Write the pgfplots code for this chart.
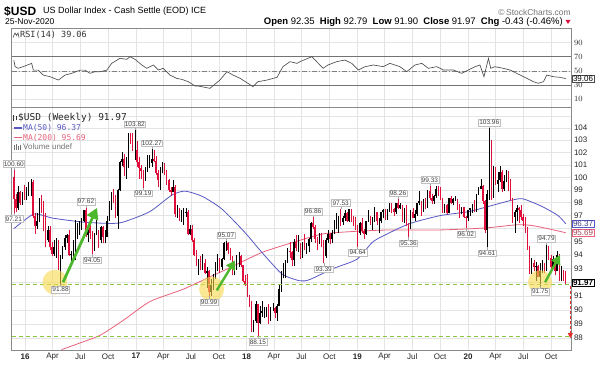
\documentclass[border=0pt]{standalone}
\usepackage{pgfplots}
\pgfplotsset{compat=1.18}
\usepackage{pgfplotstable}
\usepackage{fontspec}
\setmainfont{Liberation Sans}
\newfontfamily\monofont{DejaVu Sans Mono}
\usetikzlibrary{arrows.meta}

\definecolor{candred}{HTML}{E0103C}
\definecolor{mablue}{HTML}{5858C4}
\definecolor{mared}{HTML}{E8607A}
\definecolor{lgreen}{HTML}{8CC63F}
\definecolor{agreen}{HTML}{4DB82E}
\definecolor{gridc}{HTML}{E4E4E4}
\definecolor{framec}{HTML}{8A8A8A}
\definecolor{circy}{HTML}{F7D94C}
\definecolor{arrred}{HTML}{E8302A}

% weekly candles: k = week index (0 = week of 30-Nov-2015)
\pgfplotstableread{
k o h l c
0 100.00 100.60 97.21 98.30
1 98.30 98.70 97.30 97.60
2 97.60 99.30 97.40 98.80
3 98.80 98.90 97.80 98.00
4 98.00 98.80 97.80 98.60
5 98.60 99.40 98.20 98.50
6 98.50 99.20 98.20 98.90
7 98.90 99.60 98.50 99.60
8 99.60 99.90 98.50 99.60
9 99.60 99.80 96.80 97.00
10 97.00 97.20 95.60 96.20
11 96.20 97.20 96.00 96.60
12 96.60 98.40 96.50 98.10
13 98.10 98.60 97.20 97.30
14 97.30 98.10 95.80 96.20
15 96.20 97.20 94.60 95.10
16 95.10 96.20 95.00 95.90
17 95.90 96.20 94.40 94.60
18 94.60 95.00 93.90 94.10
19 94.10 95.10 93.90 94.60
20 94.60 95.30 93.80 95.10
21 95.10 95.10 92.90 93.00
22 93.00 94.00 91.88 93.90
23 93.90 94.70 93.70 94.60
24 94.60 95.50 94.40 95.30
25 95.30 95.60 94.90 95.50
26 95.50 95.90 93.90 94.00
27 94.00 94.30 93.40 94.10
28 94.10 95.10 93.70 94.20
29 94.20 96.70 93.60 95.50
30 95.50 96.40 95.20 95.60
31 95.60 96.60 95.50 96.30
32 96.30 96.80 95.90 96.60
33 96.60 97.30 96.50 97.40
34 97.40 97.62 95.40 95.50
35 95.50 96.30 95.00 96.20
36 96.20 96.30 95.20 95.70
37 95.70 95.80 94.05 94.50
38 94.50 95.70 94.30 95.60
39 95.60 96.70 95.50 95.80
40 95.80 95.90 94.50 95.10
41 95.10 96.20 94.90 96.10
42 96.10 96.20 94.90 95.40
43 95.40 95.90 94.90 95.40
44 95.40 97.00 95.40 96.60
45 96.60 98.10 96.60 98.00
46 98.00 98.80 97.40 98.70
47 98.70 99.10 98.00 98.40
48 98.40 98.60 96.80 97.00
49 97.00 99.10 96.00 99.00
50 99.00 101.30 98.90 101.20
51 101.20 102.00 100.90 101.50
52 101.50 101.90 100.10 100.80
53 100.80 101.60 99.90 101.50
54 101.50 103.60 100.70 103.10
55 103.10 103.60 102.70 103.00
56 103.00 103.60 102.10 102.20
57 102.20 103.82 101.40 102.20
58 102.20 102.90 100.80 101.20
59 101.20 101.60 99.90 100.70
60 100.70 101.00 99.90 100.50
61 100.50 100.60 99.19 99.80
62 99.80 100.80 99.70 100.80
63 100.80 101.80 100.40 100.90
64 100.90 101.80 100.70 101.10
65 101.10 102.27 100.80 101.50
66 101.50 102.20 101.20 101.30
67 101.30 101.70 100.20 100.30
68 100.30 100.60 99.20 99.80
69 99.80 100.80 99.00 100.30
70 100.30 101.20 100.30 101.10
71 101.10 101.10 100.20 100.50
72 100.50 100.60 99.40 99.80
73 99.80 99.90 98.80 99.00
74 99.00 99.20 98.50 98.80
75 98.80 99.80 98.80 99.20
76 99.20 99.40 96.90 97.10
77 97.10 97.80 96.80 97.40
78 97.40 97.60 96.60 96.70
79 96.70 97.40 96.50 97.20
80 97.20 97.60 96.30 97.20
81 97.20 97.60 96.90 97.30
82 97.30 97.40 95.50 95.60
83 95.60 96.30 95.50 96.00
84 96.00 96.30 95.00 95.10
85 95.10 95.30 93.90 94.00
86 94.00 94.40 93.20 93.30
87 93.30 93.70 92.50 93.50
88 93.50 93.90 92.90 93.10
89 93.10 94.10 92.90 93.40
90 93.40 93.70 92.60 92.70
91 92.70 93.10 91.60 92.80
92 92.80 92.90 90.99 91.30
93 91.30 92.20 91.00 91.90
94 91.90 92.60 91.40 92.20
95 92.20 93.50 92.20 93.10
96 93.10 94.10 92.80 93.80
97 93.80 93.80 92.70 93.10
98 93.10 93.80 92.90 93.70
99 93.70 95.00 93.60 94.90
100 94.90 95.07 94.30 94.90
101 94.90 95.00 94.10 94.40
102 94.40 94.50 93.60 93.60
103 93.60 93.90 92.50 92.80
104 92.80 93.40 92.50 92.90
105 92.90 94.00 92.90 93.90
106 93.90 94.20 93.10 93.90
107 93.90 94.00 93.10 93.30
108 93.30 93.30 92.00 92.10
109 92.10 92.50 91.70 91.90
110 91.90 92.60 90.90 90.90
111 90.90 91.10 90.20 90.60
112 90.60 90.60 88.40 89.10
113 89.10 89.30 88.40 89.20
114 89.20 90.60 89.10 90.40
115 90.40 90.40 88.15 89.10
116 89.10 90.30 89.00 89.80
117 89.80 90.60 89.50 89.90
118 89.90 90.20 89.40 90.10
119 90.10 90.20 89.50 90.20
120 90.20 90.40 89.00 89.40
121 89.40 90.20 89.20 90.10
122 90.10 90.50 89.90 90.10
123 90.10 90.20 89.40 89.80
124 89.80 90.40 89.20 90.30
125 90.30 91.80 90.30 91.50
126 91.50 92.80 91.30 92.50
127 92.50 93.40 92.30 92.50
128 92.50 93.60 92.30 93.60
129 93.60 94.50 93.40 94.30
130 94.30 95.00 93.80 94.20
131 94.20 94.30 93.20 93.60
132 93.60 95.20 93.20 95.00
133 95.00 95.50 94.30 94.50
134 94.50 95.50 94.20 94.60
135 94.60 94.90 93.70 94.00
136 94.00 95.00 93.80 94.70
137 94.70 95.60 94.40 94.40
138 94.40 94.90 94.10 94.70
139 94.70 95.30 94.20 95.20
140 95.20 96.50 95.00 96.40
141 96.40 96.86 96.00 96.10
142 96.10 96.30 94.90 95.20
143 95.20 95.40 94.40 95.10
144 95.10 95.70 94.80 95.40
145 95.40 95.70 94.60 94.90
146 94.90 95.10 93.39 93.90
147 93.90 95.30 93.80 95.10
148 95.10 95.90 94.90 95.60
149 95.60 95.70 94.80 95.20
150 95.20 95.90 94.90 95.70
151 95.70 96.70 95.60 96.40
152 96.40 97.20 96.00 96.50
153 96.50 97.00 95.70 96.90
154 96.90 97.53 96.20 96.50
155 96.50 97.00 96.30 96.80
156 96.80 97.40 96.60 97.20
157 97.20 97.30 96.50 96.60
158 96.60 97.50 96.50 97.50
159 97.50 97.50 96.50 96.90
160 96.90 97.00 96.20 96.40
161 96.40 96.90 95.90 96.20
162 96.20 96.30 94.64 95.70
163 95.70 96.50 95.50 96.40
164 96.40 96.80 95.70 95.80
165 95.80 96.00 95.20 95.60
166 95.60 96.60 95.50 96.60
167 96.60 97.40 96.50 96.90
168 96.90 97.00 96.30 96.50
169 96.50 96.90 95.90 96.50
170 96.50 97.70 96.50 97.30
171 97.30 97.30 96.30 96.60
172 96.60 96.80 95.70 96.60
173 96.60 97.30 96.40 97.30
174 97.30 97.50 96.80 97.40
175 97.40 97.50 96.70 96.90
176 96.90 97.50 96.70 97.40
177 97.40 98.00 97.30 98.00
178 98.00 98.00 97.20 97.50
179 97.50 97.60 97.00 97.30
180 97.30 98.00 97.10 98.00
181 98.00 98.26 97.50 97.60
182 97.60 98.00 97.50 97.80
183 97.80 97.80 96.50 96.50
184 96.50 97.60 96.40 97.60
185 97.60 97.80 96.20 96.20
186 96.20 96.40 95.36 96.10
187 96.10 97.40 96.00 97.30
188 97.30 97.60 96.80 96.80
189 96.80 97.40 96.60 97.10
190 97.10 98.00 97.00 98.00
191 98.00 98.90 97.80 98.10
192 98.10 98.10 97.00 97.50
193 97.50 98.30 97.30 98.10
194 98.10 98.40 97.50 97.60
195 97.60 99.00 97.60 98.90
196 98.90 99.33 98.20 98.40
197 98.40 98.70 97.90 98.10
198 98.10 98.60 97.90 98.50
199 98.50 99.30 98.40 99.10
200 99.10 99.30 98.50 98.80
201 98.80 99.20 98.20 98.30
202 98.30 98.40 97.20 97.30
203 97.30 97.90 97.20 97.80
204 97.80 97.90 97.10 97.20
205 97.20 98.40 97.20 98.40
206 98.40 98.50 97.90 98.00
207 98.00 98.40 97.80 98.30
208 98.30 98.50 98.10 98.30
209 98.30 98.30 97.40 97.70
210 97.70 97.90 96.80 97.20
211 97.20 97.70 97.10 97.70
212 97.70 97.70 96.80 96.90
213 96.90 97.00 96.02 96.80
214 96.80 97.40 96.60 97.40
215 97.40 97.50 97.00 97.60
216 97.60 97.90 97.20 97.90
217 97.90 98.20 97.30 97.40
218 97.40 98.70 97.30 98.70
219 98.70 99.20 98.60 99.10
220 99.10 99.90 99.10 99.30
221 99.30 99.40 97.90 98.10
222 98.10 98.20 95.70 95.90
223 95.90 99.00 94.61 98.70
224 98.70 103.96 98.20 102.80
225 102.80 103.00 98.20 98.40
226 98.40 100.90 98.40 100.60
227 100.60 100.80 99.40 99.50
228 99.50 100.40 98.80 99.80
229 99.80 100.90 99.60 100.40
230 100.40 100.60 98.80 99.10
231 99.10 100.20 98.90 99.70
232 99.70 100.60 99.60 100.40
233 100.40 100.50 98.90 99.90
234 99.90 99.90 98.10 98.30
235 98.30 98.40 96.40 96.90
236 96.90 97.40 95.70 97.30
237 97.30 97.80 96.60 97.60
238 97.60 97.70 96.40 97.40
239 97.40 97.80 96.70 96.90
240 96.90 97.10 96.20 96.60
241 96.60 96.90 95.70 95.90
242 95.90 96.10 94.40 94.40
243 94.40 94.70 92.60 93.30
244 93.30 93.80 92.60 93.40
245 93.40 93.60 92.80 93.10
246 93.10 93.50 92.10 93.20
247 93.20 93.30 92.40 92.40
248 92.40 93.40 91.75 92.80
249 92.80 93.60 92.70 93.30
250 93.30 93.40 92.70 92.90
251 92.90 94.79 92.80 94.60
252 94.60 94.70 93.60 93.80
253 93.80 94.00 93.00 93.10
254 93.10 93.90 93.00 93.70
255 93.70 93.80 92.50 92.80
256 92.80 94.30 92.80 94.00
257 94.00 94.10 92.10 92.20
258 92.20 93.20 92.10 92.80
259 92.80 92.90 92.10 92.40
260 92.40 92.79 91.90 91.97
}\usd

\pgfplotsset{
  chartframe/.style={
    scale only axis, width=559.3pt, xmin=-1, xmax=262.5,
    axis line style={draw=framec, line width=0.6pt},
    major tick length=0pt, minor tick length=0pt,
    xtick={5.27,18.27,31.27,44.41,57.56,70.41,83.41,96.56,109.7,122.56,135.56,148.7,161.84,174.7,187.7,200.84,213.99,226.99,239.99,253.13},
    xmajorgrids, ymajorgrids,
    grid style={draw=gridc, line width=0.5pt},
    yticklabel pos=right,
    tick label style={font=\fontsize{8}{9}\selectfont, text=black!85},
    yticklabel style={xshift=-0.5pt},
    clip=false,
  },
}
\tikzset{lbl/.style={draw=black!25, fill=white, inner sep=0.9pt, font=\fontsize{6.5}{7}\selectfont, text=black!75}}
\newcommand{\hi}[3]{\draw[black!35] (axis cs:#1,#2) -- ([yshift=2.5pt]axis cs:#1,#2) node[lbl,anchor=south]{#3};}
\newcommand{\lo}[3]{\draw[black!35] (axis cs:#1,#2) -- ([yshift=-2.5pt]axis cs:#1,#2) node[lbl,anchor=north]{#3};}

\begin{document}
\begin{tikzpicture}
\path[use as bounding box] (0,0) rectangle (600pt,365pt);

% ---------------- RSI panel ----------------
\begin{axis}[chartframe, at={(11.7pt,258pt)}, anchor=south west, height=79pt,
  ymin=-1.1, ymax=110.6, ytick={10,30,50,70,90}, xticklabels={}]
\draw[black!55, line width=0.7pt] (axis cs:-1,70) -- (axis cs:262.5,70);
\draw[black!55, line width=0.7pt] (axis cs:-1,30) -- (axis cs:262.5,30);
\draw[black!50, line width=0.6pt, dash pattern=on 5pt off 2pt on 1pt off 2pt] (axis cs:-1,50) -- (axis cs:262.5,50);
\addplot[black!70, line width=0.65pt] coordinates {
(0,65) (0.6,56) (2.1,53.6) (4.5,56) (8.4,60.6) (9.2,51) (11.5,51) (13.9,44) (17.1,41.7) (21,37) (24.1,44) (27.3,46.5) (31.2,51) (33.5,51) (35.9,46.5) (38.3,48.8) (40.6,48.8) (43.8,51) (46.1,60.6) (50,67.7) (53.2,66.3) (54.7,70) (57.1,66.3) (60.3,58.3) (62.6,53.6) (65.7,58.3) (68.1,51.2) (70.4,53.6) (73.6,44) (76.7,39.4) (79.1,38) (82.2,34.7) (85.4,28.6) (86.9,28.6) (92.4,25.3) (97.1,37) (100.4,48.8) (103.3,44) (106.6,39.4) (110.3,32.4) (112.7,27.6) (115,34.7) (119.3,37) (124,40.9) (126.8,55.9) (130.1,63) (133.4,60.6) (134.8,63) (140.4,70) (142.7,63) (145.7,53.6) (148,58.3) (152.1,63) (156,65.3) (159.2,60.6) (162.3,51.2) (165.5,55.9) (169.4,58.3) (174.1,55.9) (177.2,60.6) (181.9,55.9) (185.1,48.8) (189,58.3) (192.2,60.6) (195.3,53.6) (199.2,55.9) (202.4,51.2) (207.1,51.2) (211,46.5) (214.1,51.2) (217.3,55.9) (219.6,58.3) (221.5,41.7) (223.6,67.7) (224.7,53.6) (226.7,55.9) (230.6,53.6) (233.8,51.2) (236.9,46.5) (241.7,39.4) (244.8,34.7) (247.1,32.4) (249.5,34.7) (251.1,44) (254.2,41.7) (257.3,40.9) (260,39.06)};
\node[anchor=west, draw=black!70, fill=white, inner sep=0.8pt, font=\fontsize{8}{9}\selectfont, xshift=1pt] at (axis cs:262.5,39.06) {39.06};
\end{axis}

% ---------------- Price panel ----------------
\begin{axis}[chartframe, at={(11.7pt,15pt)}, anchor=south west, height=243pt,
  ymode=log, ymin=87.18, ymax=105.75,
  ytick={88,89,90,91,92,93,94,95,96,97,98,99,100,101,102,103,104,105},
  yticklabels={88,89,90,91,{},93,94,95,{},97,98,99,100,101,102,103,104,{}},
  xticklabels={\textbf{16},Apr,Jul,Oct,\textbf{17},Apr,Jul,Oct,\textbf{18},Apr,Jul,Oct,\textbf{19},Apr,Jul,Oct,\textbf{20},Apr,Jul,Oct}]

% moving averages
\addplot[mared, line width=0.8pt, smooth, tension=0.4] coordinates {
(22.5,87.2) (30,87.6) (40.6,88.2) (52,89.3) (64.2,90.6) (80,91.5) (93.2,92.45) (100.9,93.0) (116.9,94.2) (132.5,95.0) (145.7,95.6) (161.7,95.8) (177.2,95.9) (200.8,95.9) (222,96.05) (237.5,96.3) (245.6,96.2) (260,95.69)};
\addplot[mablue, line width=0.8pt, smooth, tension=0.4] coordinates {
(0,96.0) (9,97.1) (14,97.0) (18.5,96.8) (32.6,96.5) (45.3,96.4) (51.5,96.5) (64,97.3) (74.5,98.6) (80.7,98.9) (88.7,98.5) (98.1,97.5) (108.9,95.7) (116.9,94.2) (126.4,92.6) (134.8,92.1) (139.5,92.2) (150.4,93.0) (161.7,93.7) (169.2,95.0) (177.2,95.7) (186.7,96.4) (200.8,97.0) (214,97.3) (223.4,97.7) (234.7,98.2) (239.9,98.3) (248.9,97.7) (256.4,97.0) (260,96.37)};

% candles: wicks
\addplot[draw=none, restrict expr to domain={\thisrow{c}-\thisrow{o}}{0:50},
  error bars/.cd, y dir=plus, y explicit, error mark=none,
  error bar style={draw=black, line width=0.5pt}]
  table[x=k, y=l, y error expr=\thisrow{h}-\thisrow{l}] {\usd};
\addplot[draw=none, restrict expr to domain={\thisrow{c}-\thisrow{o}}{-50:-0.001},
  error bars/.cd, y dir=plus, y explicit, error mark=none,
  error bar style={draw=candred, line width=0.5pt}]
  table[x=k, y=l, y error expr=\thisrow{h}-\thisrow{l}] {\usd};
% candles: bodies
\addplot[draw=none, restrict expr to domain={\thisrow{c}-\thisrow{o}}{0:50},
  error bars/.cd, y dir=plus, y explicit, error mark=none,
  error bar style={draw=black, line width=1.5pt}]
  table[x=k, y=o, y error expr=\thisrow{c}-\thisrow{o}] {\usd};
\addplot[draw=none, restrict expr to domain={\thisrow{c}-\thisrow{o}}{-50:-0.001},
  error bars/.cd, y dir=plus, y explicit, error mark=none,
  error bar style={draw=candred, line width=1.5pt}]
  table[x=k, y=c, y error expr=\thisrow{o}-\thisrow{c}] {\usd};

% support lines
\draw[lgreen, line width=1.1pt, dash pattern=on 4pt off 3pt] (axis cs:-1,91.82) -- (axis cs:262.5,91.82);
\draw[lgreen, line width=1.1pt, dash pattern=on 4pt off 3pt] (axis cs:-1,88.1) -- (axis cs:262.5,88.1);

% highlight circles
\fill[circy, opacity=0.6] (axis cs:19.4,92.0) circle[radius=12.5pt];
\fill[circy, opacity=0.6] (axis cs:93.2,91.5) circle[radius=12.5pt];
\fill[circy, opacity=0.6] (axis cs:247.9,92.0) circle[radius=12pt];

% green arrows
\draw[agreen, line width=2.8pt, -{Triangle[length=11pt,width=12pt]}] (axis cs:23.2,92.0) -- (axis cs:39.2,97.6);
\draw[agreen, line width=2.4pt, -{Triangle[length=9pt,width=10pt]}] (axis cs:95.6,91.4) -- (axis cs:104.2,93.6);
\draw[agreen, line width=2.4pt, -{Triangle[length=9pt,width=10pt]}] (axis cs:250.3,92.0) -- (axis cs:257.3,94.0);

% red projection arrow
\draw[arrred, line width=1.1pt, dash pattern=on 3pt off 2pt, -{Triangle[length=5pt,width=5pt]}] (axis cs:262.2,91.75) -- (axis cs:262.2,88.0);

% high / low labels
\hi{0}{100.60}{100.60}
\lo{0}{97.21}{97.21}
\hi{57}{103.82}{103.82}
\hi{65}{102.27}{102.27}
\lo{61}{99.19}{99.19}
\hi{34}{97.62}{97.62}
\lo{37}{94.05}{94.05}
\lo{22}{91.88}{91.88}
\hi{100}{95.07}{95.07}
\lo{92}{90.99}{90.99}
\lo{115}{88.15}{88.15}
\hi{141}{96.86}{96.86}
\lo{146}{93.39}{93.39}
\hi{154}{97.53}{97.53}
\lo{162}{94.64}{94.64}
\hi{181}{98.26}{98.26}
\lo{186}{95.36}{95.36}
\hi{196}{99.33}{99.33}
\lo{213}{96.02}{96.02}
\hi{224}{103.96}{103.96}
\lo{223}{94.61}{94.61}
\hi{251}{94.79}{94.79}
\lo{248}{91.75}{91.75}

% right value boxes
\node[anchor=west, draw=mablue, fill=white, inner sep=0.8pt, font=\fontsize{8}{9}\selectfont, text=mablue!70!black, xshift=1pt] at (axis cs:262.5,96.37) {96.37};
\node[anchor=west, draw=mared, fill=white, inner sep=0.8pt, font=\fontsize{8}{9}\selectfont, text=mared!70!black, xshift=1pt] at (axis cs:262.5,95.69) {95.69};
\node[anchor=west, draw=black, fill=white, inner sep=0.8pt, font=\fontsize{8}{9}\selectfont\bfseries, xshift=1pt] at (axis cs:262.5,91.97) {91.97};
\end{axis}

% ---------------- header ----------------
\node[anchor=west, inner sep=0] at (4pt,354pt) {\fontsize{12}{12}\selectfont\bfseries \$USD};
\node[anchor=west, inner sep=0] at (43pt,354pt) {\fontsize{9}{10}\selectfont US Dollar Index - Cash Settle (EOD) ICE};
\node[anchor=west, inner sep=0] at (5pt,343pt) {\fontsize{8.5}{9}\selectfont 25-Nov-2020};
\node[anchor=east, inner sep=0, text=black!55] at (571pt,353pt) {\fontsize{8.5}{9}\selectfont \textcopyright\,StockCharts.com};
\node[anchor=east, inner sep=0] at (563pt,343pt) {\fontsize{9.5}{10}\selectfont \textbf{Open} 92.35 \ \textbf{High} 92.79 \ \textbf{Low} 91.90 \ \textbf{Close} 91.97 \ \textbf{Chg} -0.43 (-0.46\%)};
\fill[candred] (565.5pt,345pt) -- (570.5pt,345pt) -- (568pt,341pt) -- cycle;

% RSI legend
\draw[black!70, line width=0.6pt] (13pt,327.5pt) -- (15pt,332pt) -- (16.5pt,329.5pt) -- (18pt,332pt) -- (19pt,327.5pt);
\node[anchor=west, inner sep=0, text=black!80] at (20pt,330pt) {\monofont\fontsize{8.5}{9}\selectfont RSI(14) 39.06};

% price legend
\fill[black!80] (13pt,244pt) rectangle (14.2pt,250pt);
\fill[black!80] (15.5pt,245pt) rectangle (16.7pt,249pt);
\node[anchor=west, inner sep=0, text=black!85] at (18pt,247pt) {\monofont\fontsize{9.5}{10}\selectfont \$USD (Weekly) 91.97};
\draw[mablue, line width=1.2pt] (14pt,237pt) -- (22pt,237pt);
\node[anchor=west, inner sep=0, text=mablue] at (23pt,237pt) {\monofont\fontsize{8}{9}\selectfont MA(50) 96.37};
\draw[mared, line width=1.2pt] (14pt,227.5pt) -- (22pt,227.5pt);
\node[anchor=west, inner sep=0, text=mared] at (23pt,227.5pt) {\monofont\fontsize{8}{9}\selectfont MA(200) 95.69};
\fill[black!55] (14pt,215pt) rectangle (15pt,220pt);
\fill[black!55] (16pt,215pt) rectangle (17pt,221pt);
\fill[black!55] (18pt,215pt) rectangle (19pt,219pt);
\fill[black!55] (20pt,215pt) rectangle (21pt,220pt);
\node[anchor=west, inner sep=0, text=black!55] at (23pt,218pt) {\fontsize{8}{9}\selectfont Volume undef};
\end{tikzpicture}
\end{document}
